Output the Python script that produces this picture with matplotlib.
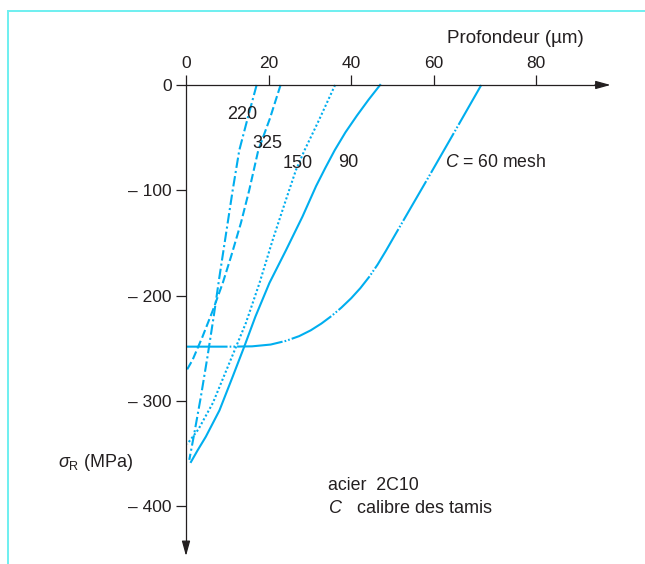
import matplotlib.pyplot as plt
import numpy as np
from matplotlib.lines import Line2D

plt.rcParams['font.family'] = ['Liberation Sans', 'DejaVu Sans']
plt.rcParams['mathtext.fontset'] = 'custom'
plt.rcParams['mathtext.rm'] = 'Liberation Sans'
plt.rcParams['mathtext.it'] = 'Liberation Sans:italic'

# depth (um) vs residual stress (MPa)
x_220 = [17.1, 14.9, 12.9, 11.3, 9.7, 8.1, 6.7, 5.2, 3.6, 2.0, 0.8]
y_220 = [0, -32, -62, -100, -141, -182, -220, -258, -296, -331, -356]

x_325 = [22.9, 20.3, 17.5, 15.3, 13.3, 10.9, 8.9, 6.5, 4.0, 1.6, 0]
y_325 = [0, -32, -62, -100, -131, -163, -188, -214, -239, -261, -272]

x_150 = [36.1, 32.0, 28.7, 26.6, 24.2, 21.0, 17.8, 14.5, 10.5, 6.5, 3.0, 0.3]
y_150 = [0, -35, -62, -81, -109, -147, -188, -226, -264, -302, -327, -341]

x_90 = [47.0, 44.2, 41.4, 38.6, 36.0, 33.7, 31.5, 28.2, 24.2, 20.2, 16.8,
        14.1, 11.3, 8.1, 4.8, 2.8, 1.2]
y_90 = [0, -14, -29, -45, -62, -79, -96, -125, -157, -188, -220,
        -248.5, -277, -309, -334, -347, -358]

x_60 = [71.5, 64.8, 58.8, 50.6, 48.4, 46.4, 44.4, 42.2, 40.0, 37.6, 35.2,
        32.8, 30.2, 27.4, 24.2, 20.5, 16.0, 11.0, 0]
y_60 = [0, -46, -87, -142.5, -157.5, -170.5, -182, -193, -202.5, -211.5, -219.5,
        -226.5, -233, -238.5, -243, -246.5, -248.2, -248.5, -248.5]

xtick_labels = ['0', '20', '40', '60', '80']
ytick_vals = [0, -100, -200, -300, -400]
ytick_labels = ['0', '– 100', '– 200', '– 300', '– 400']

blue = '#00AEEF'
ink = '#231F20'

fig = plt.figure(figsize=(6.45, 5.64), dpi=100)
ax = fig.add_axes([0, 0, 1, 1])
ax.set_xlim(-45.04, 111.14)
ax.set_ylim(-454.9, 80.7)

lw = 1.5
ax.plot(x_220, y_220, color=blue, lw=lw, ls=(0, (5, 1.5, 1, 1.5)))
ax.plot(x_325, y_325, color=blue, lw=lw, ls=(0, (4, 1.6)))
ax.plot(x_150, y_150, color=blue, lw=lw, ls=(0, (1, 1.1)))
ax.plot(x_90, y_90, color=blue, lw=lw, ls='-')
ax.plot(x_60, y_60, color=blue, lw=lw, ls=(0, (22, 1, 0.8, 1, 0.8, 1)))

# axes through the origin
for s in ['right', 'bottom']:
    ax.spines[s].set_visible(False)
ax.spines['top'].set_position(('data', 0))
ax.spines['left'].set_position(('data', 0))
ax.spines['top'].set_bounds(0, 100)
ax.spines['left'].set_bounds(-440, 0)
for s in ['top', 'left']:
    ax.spines[s].set_color(ink)
    ax.spines[s].set_linewidth(0.9)

ax.annotate('', xy=(102.8, 0), xytext=(99, 0),
            arrowprops=dict(arrowstyle='-|>,head_length=0.9,head_width=0.25',
                            color=ink, lw=0.9, shrinkA=0, shrinkB=0))
ax.annotate('', xy=(0, -447.3), xytext=(0, -435),
            arrowprops=dict(arrowstyle='-|>,head_length=0.9,head_width=0.25',
                            color=ink, lw=0.9, shrinkA=0, shrinkB=0))

ax.xaxis.tick_top()
ax.set_xticks([0, 20, 40, 60, 84.8])
ax.set_xticklabels(xtick_labels)
ax.set_yticks(ytick_vals)
ax.set_yticklabels(ytick_labels)
ax.tick_params(axis='both', direction='out', length=7.2, width=0.9,
               color=ink, labelcolor=ink, labelsize=12.5, pad=3)

ax.text(96.4, 39.9, 'Profondeur (µm)', ha='right', va='baseline', fontsize=13.5, color=ink)
ax.text(-31.0, -362.8, r'$\sigma_{\mathrm{R}}$ (MPa)', ha='left', va='baseline',
        fontsize=13, color=ink)

ax.text(13.6, -32.3, '220', ha='center', va='baseline', fontsize=13, color=ink)
ax.text(19.6, -59.8, '325', ha='center', va='baseline', fontsize=13, color=ink)
ax.text(27.1, -78.8, '150', ha='center', va='baseline', fontsize=13, color=ink)
ax.text(39.2, -77.9, '90', ha='center', va='baseline', fontsize=13, color=ink)
ax.text(62.7, -77.9, r'$C$ = 60 mesh', ha='left', va='baseline', fontsize=12.7, color=ink)

ax.text(34.4, -384.6, 'acier  2C10', ha='left', va='baseline', fontsize=12.8, color=ink)
ax.text(34.4, -406.5, r'$C$   calibre des tamis', ha='left', va='baseline', fontsize=13, color=ink)

# light cyan frame (left and top edges)
frame = '#6EEFF0'
fig.add_artist(Line2D([8 / 645, 8 / 645], [0, 1 - 11 / 564], color=frame, lw=1.4))
fig.add_artist(Line2D([8 / 645, 1], [1 - 11 / 564, 1 - 11 / 564], color=frame, lw=1.4))

fig.savefig('out.png', dpi=100)
